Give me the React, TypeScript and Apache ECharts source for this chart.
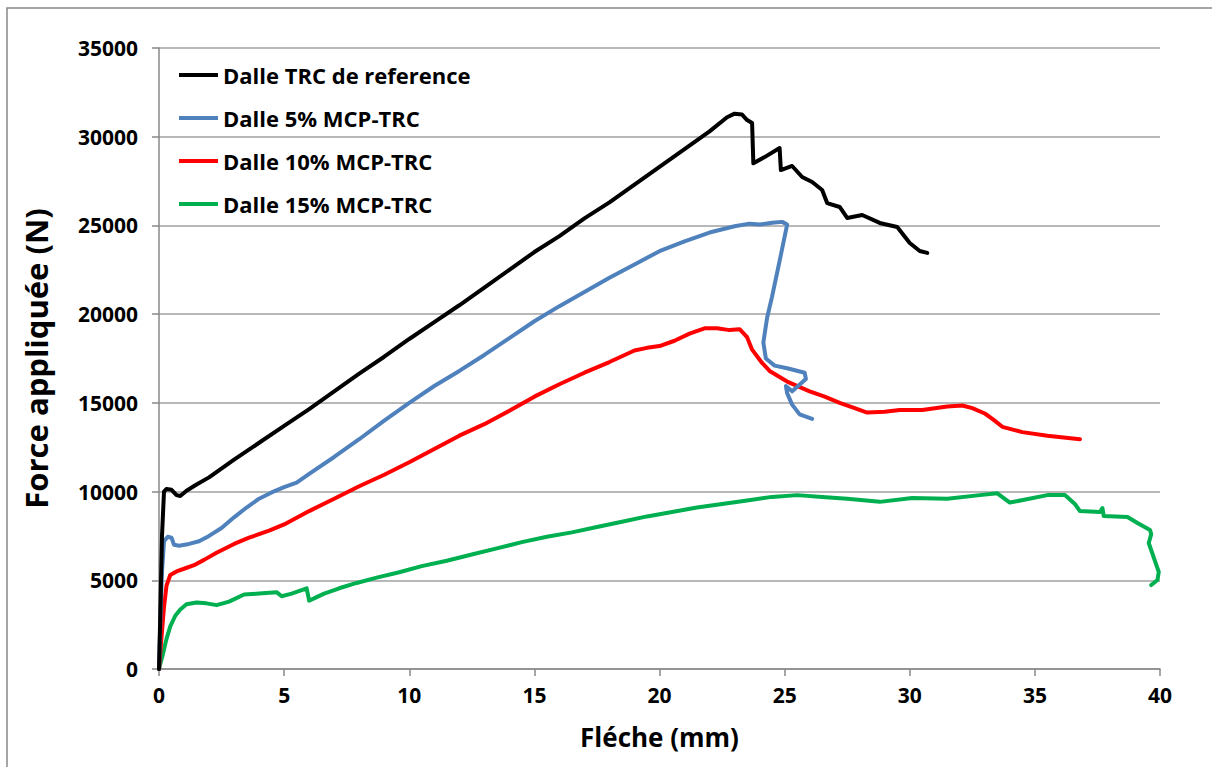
import React, { useEffect, useRef } from "react";
import * as echarts from "echarts";

const seriesNames = [
  "Dalle TRC de reference",
  "Dalle 5% MCP-TRC",
  "Dalle 10% MCP-TRC",
  "Dalle 15% MCP-TRC",
];
const seriesColors = ["#000000", "#4f81bd", "#ff0000", "#00b050"];

const xTicks = [0, 5, 10, 15, 20, 25, 30, 35, 40];
const yTicks = [0, 5000, 10000, 15000, 20000, 25000, 30000, 35000];

const refData: [number, number][] = [
  [0, 0], [0.05, 3000], [0.12, 7500], [0.2, 10000], [0.3, 10150], [0.5, 10100], [0.7, 9800],
  [0.85, 9750], [1.1, 10050], [1.5, 10400], [2, 10800], [3, 11800], [4, 12750], [5, 13700],
  [6, 14650], [7, 15650], [8, 16650], [9, 17600], [10, 18600], [11, 19550], [12, 20500],
  [13, 21500], [14, 22500], [15, 23500], [16, 24400], [17, 25400], [18, 26300], [19, 27300],
  [20, 28300], [21, 29300], [22, 30300], [22.7, 31100], [23.0, 31300], [23.3, 31250],
  [23.5, 30940], [23.7, 30770], [23.75, 28500], [24.2, 28850], [24.8, 29360], [24.85, 28120],
  [25.3, 28350], [25.7, 27730], [26.1, 27450], [26.5, 27000], [26.7, 26260], [27.2, 26040],
  [27.5, 25420], [28.1, 25590], [28.8, 25140], [29.5, 24910], [30.0, 24010], [30.4, 23560],
  [30.7, 23450],
];

const mcp5Data: [number, number][] = [
  [0, 0], [0.05, 2500], [0.12, 5500], [0.2, 7200], [0.35, 7450], [0.5, 7400], [0.6, 7000],
  [0.8, 6950], [1.2, 7050], [1.6, 7200], [2.0, 7500], [2.5, 7950], [3.0, 8550], [3.5, 9100],
  [4.0, 9600], [4.5, 9950], [5.0, 10250], [5.5, 10500], [6, 11000], [7, 11950], [8, 12950],
  [9, 14000], [10, 15000], [11, 15950], [12, 16800], [13, 17700], [14, 18650], [15, 19600],
  [16, 20450], [17, 21250], [18, 22050], [19, 22800], [20, 23550], [21, 24100], [22, 24600],
  [23, 24950], [23.6, 25100], [24, 25050], [24.5, 25150], [24.9, 25200], [25.1, 25050],
  [24.8, 23000], [24.5, 21000], [24.3, 19800], [24.15, 18400], [24.25, 17500], [24.6, 17100],
  [25.1, 16950], [25.8, 16700], [25.85, 16350], [25.3, 15650], [25.05, 15950], [25.1, 15550],
  [25.3, 14900], [25.6, 14350], [26.1, 14100],
];

const mcp10Data: [number, number][] = [
  [0, 0], [0.1, 1800], [0.2, 3500], [0.3, 4700], [0.45, 5300], [0.7, 5500], [1.0, 5650],
  [1.4, 5850], [1.8, 6150], [2.3, 6550], [3, 7050], [3.6, 7400], [4.4, 7800], [5, 8150],
  [6, 8900], [7, 9600], [8, 10300], [9, 10950], [10, 11650], [11, 12400], [12, 13150],
  [13, 13800], [14, 14550], [15, 15350], [16, 16050], [17, 16700], [18, 17300], [19, 17950],
  [19.5, 18100], [20, 18200], [20.6, 18500], [21.2, 18900], [21.8, 19200], [22.3, 19200],
  [22.8, 19100], [23.2, 19150], [23.5, 18700], [23.7, 18000], [24.1, 17250], [24.4, 16800],
  [25.1, 16200], [26.0, 15650], [26.6, 15350], [27.2, 15000], [27.8, 14700], [28.3, 14450],
  [29.0, 14500], [29.6, 14600], [30.5, 14600], [31.5, 14800], [32.1, 14850], [32.5, 14700],
  [33.0, 14400], [33.3, 14100], [33.7, 13650], [34.5, 13350], [35.5, 13150], [36.8, 12950],
];

const mcp15Data: [number, number][] = [
  [0, 0], [0.15, 800], [0.3, 1700], [0.45, 2400], [0.65, 3000], [0.85, 3350], [1.1, 3650],
  [1.5, 3750], [1.9, 3700], [2.3, 3600], [2.8, 3800], [3.4, 4200], [4.0, 4250], [4.7, 4330],
  [4.9, 4100], [5.3, 4250], [5.9, 4550], [6.0, 3850], [6.3, 4050], [6.6, 4250], [7.2, 4550],
  [7.9, 4850], [8.7, 5150], [9.6, 5450], [10.5, 5800], [11.5, 6100], [12.5, 6450], [13.5, 6800],
  [14.5, 7150], [15.5, 7450], [16.5, 7700], [17.5, 8000], [18.5, 8300], [19.5, 8600],
  [20.5, 8850], [21.5, 9100], [22.5, 9300], [23.5, 9500], [24.5, 9700], [25.5, 9800],
  [26.5, 9700], [27.5, 9600], [28.8, 9420], [30.1, 9640], [31.5, 9600], [32.8, 9800],
  [33.5, 9900], [34.0, 9380], [35.5, 9800], [36.2, 9800], [36.6, 9300], [36.8, 8900],
  [37.6, 8850], [37.7, 9070], [37.75, 8630], [38.7, 8570], [39.1, 8230], [39.6, 7830],
  [39.65, 7600], [39.55, 7100], [39.95, 5470], [39.9, 5020], [39.65, 4730],
];

const allData = [refData, mcp5Data, mcp10Data, mcp15Data];

const FONT = "'Open Sans', Lato, sans-serif";

export default function App() {
  const ref = useRef<HTMLDivElement>(null);
  useEffect(() => {
    if (!ref.current) return;
    const chart = echarts.init(ref.current, undefined, { renderer: "svg" });
    chart.setOption({
      animation: false,
      backgroundColor: "#ffffff",
      graphic: [
        {
          type: "rect",
          shape: { x: 7, y: 8, width: 1230, height: 800 },
          style: { fill: "none", stroke: "#888888", lineWidth: 1.5 },
          silent: true,
        },
      ],
      grid: { left: 159, right: 52, top: 48, bottom: 98, containLabel: false },
      legend: {
        orient: "vertical",
        left: 174,
        top: 59,
        icon: "rect",
        itemWidth: 39,
        itemHeight: 4,
        itemGap: 21,
        data: seriesNames,
        textStyle: {
          fontFamily: FONT,
          fontWeight: "bold",
          fontSize: 22,
          color: "#000",
          lineHeight: 22,
        },
      },
      xAxis: {
        type: "value",
        min: xTicks[0],
        max: xTicks[xTicks.length - 1],
        interval: 5,
        name: "Fléche (mm)",
        nameLocation: "middle",
        nameGap: 55,
        nameTextStyle: { fontFamily: FONT, fontWeight: "bold", fontSize: 26, color: "#000" },
        axisLine: { show: true, lineStyle: { color: "#888888", width: 1.5 } },
        axisTick: { show: true, length: 7, lineStyle: { color: "#888888", width: 1.5 } },
        axisLabel: {
          margin: 15,
          fontFamily: FONT,
          fontWeight: "bold",
          fontSize: 21,
          color: "#000",
        },
        splitLine: { show: false },
      },
      yAxis: {
        type: "value",
        min: yTicks[0],
        max: yTicks[yTicks.length - 1],
        interval: 5000,
        name: "Force appliquée (N)",
        nameLocation: "middle",
        nameGap: 108,
        nameTextStyle: { fontFamily: FONT, fontWeight: "bold", fontSize: 31, color: "#000" },
        axisLine: { show: true, lineStyle: { color: "#888888", width: 1.5 } },
        axisTick: { show: true, length: 7, lineStyle: { color: "#888888", width: 1.5 } },
        axisLabel: {
          margin: 21,
          fontFamily: FONT,
          fontWeight: "bold",
          fontSize: 21,
          color: "#000",
          formatter: (v: number) => String(v),
        },
        splitLine: { show: true, lineStyle: { color: "#a0a0a0", width: 1.5 } },
      },
      series: seriesNames.map((name, i) => ({
        name,
        type: "line",
        data: allData[i],
        showSymbol: false,
        symbol: "none",
        clip: false,
        lineStyle: { color: seriesColors[i], width: 4, join: "round", cap: "round" },
        itemStyle: { color: seriesColors[i] },
        z: 10 - i,
      })),
    });
    return () => chart.dispose();
  }, []);
  return (
    <div
      ref={ref}
      style={{ position: "fixed", left: 0, top: 0, width: 1212, height: 767 }}
    />
  );
}
